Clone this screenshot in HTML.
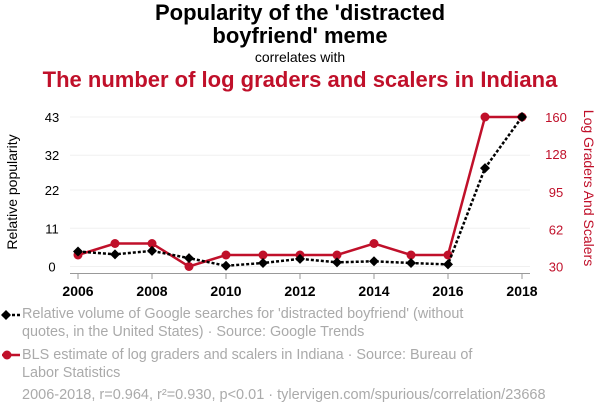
<!DOCTYPE html>
<html><head><meta charset="utf-8"><style>
body{margin:0;background:#fff;font-family:"Liberation Sans",sans-serif}
#wrap{position:relative;width:600px;height:414px;overflow:hidden}
.t{position:absolute;left:0;width:600px;text-align:center}
.leg{position:absolute;left:22px;font-size:14.4px;color:#aaa;line-height:18px}
</style></head><body>
<div id="wrap">
<div class="t" style="top:1px;font-size:22px;font-weight:bold;line-height:23px;color:#000">Popularity of the 'distracted<br>boyfriend' meme</div>
<div class="t" style="top:49px;font-size:14px;color:#000">correlates with</div>
<div class="t" style="top:67px;font-size:22px;font-weight:bold;color:#c0102a">The number of log graders and scalers in Indiana</div>
<svg id="svg" width="600" height="414" style="position:absolute;left:0;top:0"></svg>
<div class="leg" style="top:305px">Relative volume of Google searches for 'distracted boyfriend' (without<br>quotes, in the United States) · Source: Google Trends</div>
<div class="leg" style="top:346px">BLS estimate of log graders and scalers in Indiana · Source: Bureau of<br>Labor Statistics</div>
<div class="leg" style="left:22px;top:386px;font-size:14.5px">2006-2018, r=0.964, r²=0.930, p&lt;0.01 · tylervigen.com/spurious/correlation/23668</div>
</div>
<script>
const years=[2006,2007,2008,2009,2010,2011,2012,2013,2014,2015,2016,2017,2018];
const popularity=[4.3,3.5,4.5,2.4,0.2,1,2.2,1.2,1.5,1,0.6,28.3,43];
const graders=[40,50,50,30,40,40,40,40,50,40,40,160,160];
const leftTicks=[0,11,22,32,43];
const rightTicks=[30,62,95,128,160];
const xTicks=[2006,2008,2010,2012,2014,2016,2018];
const NS="http://www.w3.org/2000/svg";
const svg=document.getElementById('svg');
const x=v=>78+(v-2006)*37;
const yL=v=>266.5-(v/43)*149.5;
const yR=v=>266.5-((v-30)/130)*149.5;
function mk(t,a,txt){const e=document.createElementNS(NS,t);for(const k in a)e.setAttribute(k,a[k]);if(txt!=null)e.textContent=txt;svg.appendChild(e);return e;}
leftTicks.forEach((v,i)=>{
 const g=mk('line',{x1:70,x2:530,y1:yL(v),y2:yL(v),stroke:'#f0f0f0','stroke-width':1});
 
 const t=mk('text',{x:52,y:yL(v)+5,'text-anchor':'middle','font-size':13,fill:'#000'},v);
 
});
rightTicks.forEach(v=>{
 const t=mk('text',{x:556,y:yR(v)+5,'text-anchor':'middle','font-size':13,fill:'#c0102a'},v);
 
});
const ax=mk('line',{x1:70,x2:530,y1:273.5,y2:273.5,stroke:'#999','stroke-width':1});

xTicks.forEach(v=>{
 const tk=mk('line',{x1:x(v),x2:x(v),y1:273.5,y2:279,stroke:'#999'});
 
 const t=mk('text',{x:x(v),y:296,'text-anchor':'middle','font-size':14,'font-weight':'bold',fill:'#000'},v);
 
});
const yl=mk('text',{x:17,y:192,transform:'rotate(-90 17 192)','text-anchor':'middle','font-size':14,fill:'#000'},'Relative popularity');

const yr=mk('text',{x:584,y:188,transform:'rotate(90 584 188)','text-anchor':'middle','font-size':14,fill:'#c0102a'},'Log Graders And Scalers');

const rl=mk('polyline',{points:years.map((y,i)=>x(y)+','+yR(graders[i])).join(' '),fill:'none',stroke:'#c0102a','stroke-width':2.5});

years.forEach((y,i)=>{const c=mk('circle',{cx:x(y),cy:yR(graders[i]),r:4.5,fill:'#c0102a'});
 });
const bl=mk('polyline',{points:years.map((y,i)=>x(y)+','+yL(popularity[i])).join(' '),fill:'none',stroke:'#000','stroke-width':2.5,'stroke-dasharray':'3,2'});

years.forEach((y,i)=>{const cx=x(y),cy=yL(popularity[i]);
 const d=mk('polygon',{points:`${cx},${cy-5} ${cx+5},${cy} ${cx},${cy+5} ${cx-5},${cy}`,fill:'#000'});
 });
const l1=mk('line',{x1:2,x2:20,y1:315,y2:315,stroke:'#000','stroke-width':2.5,'stroke-dasharray':'3,2'});

const l1d=mk('polygon',{points:'6,310 11,315 6,320 1,315',fill:'#000'});

const l2=mk('line',{x1:2,x2:20,y1:355,y2:355,stroke:'#c0102a','stroke-width':2.5});

const l2c=mk('circle',{cx:7,cy:355,r:4.5,fill:'#c0102a'});

</script>
</body></html>
